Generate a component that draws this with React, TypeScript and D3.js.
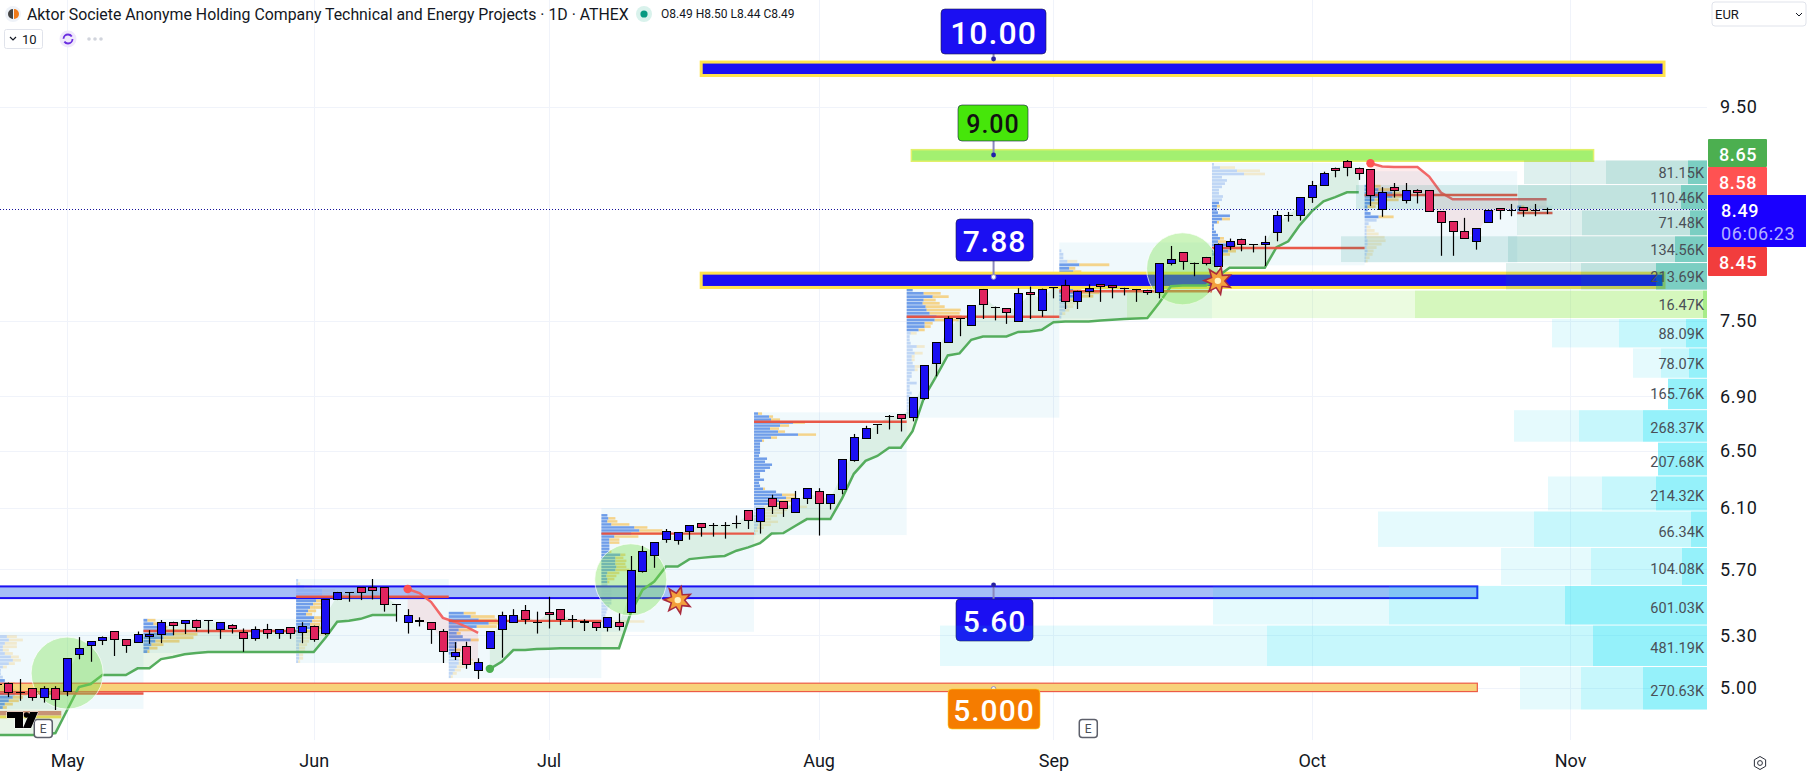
import { useEffect, useRef } from "react";
import * as d3 from "d3";

// daily candles, [open, high, low, close], one row per trading day
const candles: number[][] = [
  [5.02, 5.06, 4.98, 5.02], [5.03, 5.03, 4.95, 4.98], [4.98, 5.05, 4.93, 4.98], [5.0, 5.0, 4.93, 4.95],
  [4.95, 5.01, 4.92, 5.0], [5.0, 5.01, 4.88, 4.94], [4.985, 5.167, 4.955, 5.167], [5.19, 5.289, 5.161, 5.224],
  [5.246, 5.265, 5.147, 5.265], [5.275, 5.293, 5.243, 5.289], [5.324, 5.324, 5.18, 5.277], [5.277, 5.277, 5.198, 5.246],
  [5.26, 5.322, 5.26, 5.307], [5.293, 5.33, 5.25, 5.307], [5.307, 5.39, 5.254, 5.377], [5.377, 5.38, 5.3, 5.363],
  [5.375, 5.39, 5.307, 5.389], [5.393, 5.393, 5.322, 5.348], [5.39, 5.39, 5.31, 5.39], [5.334, 5.377, 5.279, 5.377],
  [5.363, 5.365, 5.31, 5.345], [5.32, 5.34, 5.204, 5.286], [5.286, 5.352, 5.268, 5.334], [5.334, 5.367, 5.28, 5.316],
  [5.316, 5.334, 5.279, 5.334], [5.348, 5.348, 5.279, 5.316], [5.322, 5.377, 5.254, 5.357], [5.357, 5.357, 5.262, 5.277],
  [5.316, 5.516, 5.302, 5.516], [5.514, 5.56, 5.51, 5.56], [5.558, 5.558, 5.5, 5.558], [5.588, 5.588, 5.51, 5.56],
  [5.588, 5.64, 5.514, 5.574], [5.588, 5.588, 5.44, 5.485], [5.485, 5.485, 5.38, 5.485], [5.377, 5.455, 5.31, 5.42],
  [5.39, 5.406, 5.352, 5.385], [5.377, 5.377, 5.25, 5.334], [5.324, 5.336, 5.14, 5.207], [5.18, 5.26, 5.157, 5.2],
  [5.237, 5.262, 5.107, 5.136], [5.1, 5.167, 5.05, 5.144], [5.224, 5.324, 5.224, 5.324], [5.334, 5.44, 5.17, 5.42],
  [5.377, 5.455, 5.377, 5.42], [5.45, 5.48, 5.365, 5.395], [5.377, 5.44, 5.31, 5.377], [5.44, 5.53, 5.34, 5.428],
  [5.455, 5.455, 5.36, 5.395], [5.395, 5.42, 5.342, 5.395], [5.386, 5.395, 5.325, 5.377], [5.377, 5.377, 5.325, 5.348],
  [5.348, 5.406, 5.322, 5.406], [5.377, 5.43, 5.328, 5.357], [5.436, 5.785, 5.436, 5.696], [5.69, 5.85, 5.68, 5.815],
  [5.793, 5.875, 5.71, 5.875], [5.892, 5.96, 5.87, 5.946], [5.885, 5.94, 5.858, 5.94], [5.944, 5.986, 5.89, 5.986],
  [5.998, 5.998, 5.91, 5.976], [5.988, 6.0, 5.91, 5.988], [5.988, 6.006, 5.897, 5.988], [6.0, 6.05, 5.964, 6.0],
  [6.085, 6.085, 5.96, 6.023], [6.016, 6.1, 5.93, 6.1], [6.17, 6.19, 6.06, 6.115], [6.145, 6.145, 6.04, 6.1],
  [6.076, 6.216, 6.076, 6.17], [6.17, 6.235, 6.127, 6.235], [6.214, 6.235, 5.917, 6.135], [6.135, 6.193, 6.09, 6.193],
  [6.228, 6.438, 6.193, 6.438], [6.435, 6.62, 6.42, 6.597], [6.594, 6.68, 6.594, 6.663], [6.69, 6.69, 6.62, 6.69],
  [6.75, 6.76, 6.653, 6.75], [6.767, 6.767, 6.638, 6.74], [6.745, 6.893, 6.713, 6.893], [6.89, 7.143, 6.875, 7.143],
  [7.158, 7.327, 7.055, 7.327], [7.327, 7.54, 7.327, 7.525], [7.525, 7.525, 7.375, 7.525], [7.465, 7.63, 7.465, 7.63],
  [7.77, 7.77, 7.517, 7.64], [7.62, 7.62, 7.505, 7.62], [7.605, 7.605, 7.476, 7.573], [7.497, 7.777, 7.497, 7.735],
  [7.745, 7.79, 7.517, 7.725], [7.593, 7.773, 7.535, 7.773], [7.787, 7.787, 7.69, 7.787], [7.8, 7.85, 7.6, 7.665],
  [7.665, 7.755, 7.6, 7.755], [7.75, 7.81, 7.7, 7.78], [7.81, 7.81, 7.66, 7.795], [7.8, 7.8, 7.69, 7.785],
  [7.78, 7.78, 7.715, 7.78], [7.77, 7.77, 7.66, 7.77], [7.763, 7.763, 7.72, 7.745], [7.74, 7.995, 7.69, 7.995],
  [7.995, 8.148, 7.975, 8.03], [8.09, 8.09, 7.937, 8.01], [8.0, 8.0, 7.88, 8.0], [8.05, 8.05, 7.975, 8.0],
  [7.97, 8.17, 7.97, 8.17], [8.15, 8.215, 8.11, 8.19], [8.215, 8.215, 8.1, 8.163], [8.163, 8.163, 8.09, 8.163],
  [8.163, 8.24, 7.97, 8.18], [8.275, 8.47, 8.19, 8.43], [8.43, 8.46, 8.37, 8.43], [8.43, 8.6, 8.38, 8.6],
  [8.6, 8.755, 8.545, 8.715], [8.715, 8.845, 8.715, 8.83], [8.885, 8.885, 8.79, 8.865], [8.945, 8.96, 8.8, 8.89],
  [8.885, 8.885, 8.765, 8.83], [8.87, 8.87, 8.515, 8.62], [8.485, 8.695, 8.415, 8.645], [8.695, 8.735, 8.595, 8.672],
  [8.57, 8.735, 8.54, 8.665], [8.665, 8.675, 8.54, 8.645], [8.665, 8.665, 8.465, 8.465], [8.465, 8.465, 8.06, 8.37],
  [8.375, 8.375, 8.06, 8.285], [8.285, 8.405, 8.22, 8.22], [8.19, 8.31, 8.115, 8.31], [8.37, 8.48, 8.36, 8.48],
  [8.495, 8.495, 8.39, 8.48], [8.48, 8.535, 8.42, 8.48], [8.505, 8.505, 8.415, 8.475], [8.48, 8.535, 8.42, 8.48],
  [8.49, 8.5, 8.44, 8.49],
];

// stop line legs of the trend indicator, each with its first bar
const greenLegA = [4.747, 4.747, 4.747, 4.747, 4.747, 4.757, 4.88, 5.005, 5.022, 5.072, 5.072, 5.072, 5.11, 5.11, 5.162, 5.174, 5.19, 5.197, 5.203, 5.203, 5.203, 5.203, 5.203, 5.203, 5.203, 5.203, 5.203, 5.203, 5.285, 5.38, 5.385, 5.397, 5.42, 5.42, 5.42];
const redLegA = [5.578, 5.553, 5.498, 5.403, 5.38, 5.35, 5.314];
const greenLegB = [5.107, 5.147, 5.214, 5.214, 5.22, 5.222, 5.225, 5.225, 5.225, 5.225, 5.225, 5.225, 5.433, 5.572, 5.624, 5.718, 5.718, 5.765, 5.773, 5.78, 5.785, 5.819, 5.84, 5.867, 5.93, 5.933, 5.98, 6.026, 6.026, 6.026, 6.165, 6.335, 6.426, 6.461, 6.52, 6.52, 6.64, 6.897, 7.053, 7.22, 7.236, 7.346, 7.373, 7.373, 7.373, 7.41, 7.413, 7.428, 7.49, 7.495, 7.495, 7.495, 7.503, 7.511, 7.517, 7.52, 7.525, 7.65, 7.793, 7.8, 7.8, 7.8, 7.88, 7.955, 7.955, 7.955, 7.955, 8.137, 8.19, 8.34, 8.465, 8.56, 8.6, 8.645, 8.645];
const redLegB = [8.927, 8.895, 8.89, 8.89, 8.89, 8.797, 8.643, 8.579, 8.579, 8.579, 8.579, 8.579, 8.579, 8.579, 8.579, 8.579];
const legStarts = [0, 35, 42, 117];

// session volume profiles
const sessionEdges = [-0.5, 12.5, 25.5, 38.5, 51.5, 64.5, 77.5, 90.5, 103.5, 116.5, 129.5, 132.5];
const sessionHighs = [5.32, 5.397, 5.64, 5.52, 6.1, 6.78, 7.83, 8.18, 8.93, 8.85, 8.52];
const sessionLows = [4.886, 5.197, 5.14, 5.055, 5.32, 5.92, 6.74, 7.52, 7.975, 8.0, 8.44];
const sessionPocs = [4.97, 5.325, 5.53, 5.385, 5.93, 6.71, 7.535, 7.75, 8.13, 8.62, 8.45];
const sessionValueAreas = [[14, 22], [0, 9], [2, 15], [4, 16], [2, 24], [0, 30], [2, 14], [6, 16], [12, 28], [4, 13], [0, 2]];
const sessionRows: number[][][] = [
  [[0, 0], [16, 10], [18, 14], [14, 12], [12, 14], [12, 6], [14, 8], [20, 8], [22, 8], [18, 6], [12, 4], [10, 0], [10, 0], [12, 0], [14, 0], [18, 6], [20, 8], [22, 10], [24, 12], [22, 10], [18, 10], [14, 8], [12, 4]],
  [[4, 8], [10, 8], [18, 6], [22, 20], [30, 24], [20, 30], [12, 24], [8, 12], [6, 8], [4, 2]],
  [[2, 0], [2, 2], [8, 8], [26, 13], [26, 8], [26, 16], [20, 8], [17, 8], [14, 12], [12, 8], [10, 6], [18, 8], [16, 12], [14, 10], [20, 8], [10, 14], [6, 26], [5, 14], [5, 8], [3, 8], [3, 6], [3, 6], [3, 4], [3, 4], [2, 2]],
  [[0, 0], [0, 0], [0, 0], [0, 0], [15, 12], [22, 24], [30, 18], [40, 16], [28, 20], [10, 14], [8, 4], [14, 0], [22, 8], [8, 0], [8, 0], [6, 6], [6, 4], [8, 10], [10, 14], [10, 16], [8, 8], [6, 6], [4, 4], [2, 2]],
  [[0, 0], [0, 0], [6, 0], [7, 7], [6, 10], [10, 18], [33, 13], [38, 23], [30, 37], [13, 24], [8, 10], [8, 10], [8, 0], [8, 0], [8, 2], [19, 5], [14, 8], [14, 11], [14, 10], [15, 10], [14, 14], [6, 12], [5, 10], [6, 7], [6, 2], [6, 0], [10, 0], [10, 0], [10, 0], [10, 0], [10, 0], [10, 0], [8, 0], [6, 0], [5, 0], [4, 0], [3, 0], [3, 40], [0, 0], [0, 0], [0, 0]],
  [[4, 4], [15, 4], [17, 9], [39, 12], [26, 9], [16, 9], [24, 7], [44, 18], [17, 6], [8, 2], [6, 0], [6, 0], [6, 0], [6, 0], [5, 0], [13, 0], [11, 0], [18, 0], [16, 0], [11, 0], [6, 0], [6, 0], [10, 0], [5, 0], [6, 0], [9, 2], [22, 0], [28, 13], [32, 10], [25, 15], [20, 10], [10, 43], [6, 27], [10, 20], [10, 13], [7, 10], [7, 17], [4, 13], [3, 7], [1, 3], [1, 1]],
  [[0, 0], [0, 0], [6, 0], [17, 17], [26, 16], [17, 12], [16, 17], [19, 19], [20, 34], [23, 30], [30, 25], [28, 24], [18, 8], [18, 6], [12, 6], [4, 6], [3, 0], [3, 0], [4, 0], [10, 8], [6, 0], [8, 8], [5, 3], [5, 3], [6, 0], [8, 8], [8, 3], [5, 0], [5, 0], [3, 0], [10, 0], [3, 0], [3, 0], [5, 0], [3, 0], [2, 0], [4, 0], [2, 0], [2, 0], [2, 0], [1, 0]],
  [[0, 0], [0, 0], [2, 0], [4, 0], [4, 0], [8, 10], [20, 30], [10, 6], [14, 8], [8, 18], [8, 4], [8, 4], [10, 6], [14, 8], [20, 20], [14, 20], [10, 10], [6, 10], [8, 6], [6, 4], [3, 3], [2, 0]],
  [[2, 0], [8, 15], [25, 23], [32, 21], [10, 0], [15, 0], [13, 0], [10, 0], [7, 0], [7, 0], [11, 0], [10, 0], [7, 0], [5, 3], [5, 0], [6, 0], [18, 0], [10, 8], [5, 2], [2, 0], [2, 0], [4, 0], [6, 0], [8, 4], [6, 8], [14, 10], [20, 12], [16, 8], [8, 10], [6, 4], [4, 8], [2, 0]],
  [[0, 0], [0, 0], [0, 0], [0, 0], [8, 8], [14, 16], [28, 8], [28, 16], [10, 24], [6, 14], [3, 8], [3, 0], [6, 0], [14, 15], [12, 0], [4, 0], [2, 4], [2, 8], [2, 12], [2, 18], [3, 18], [3, 14], [2, 10], [3, 6], [2, 6], [1, 4], [1, 2]],
  [[4, 3], [6, 8], [3, 14]],
];

// visible range profile on the right
const vpEdges = [8.96, 8.72, 8.48, 8.24, 8.0, 7.76, 7.52, 7.28, 7.04, 6.8, 6.56, 6.32, 6.08, 5.84, 5.6, 5.36, 5.12, 4.88];
const vpLabels = ["81.15K", "110.46K", "71.48K", "134.56K", "213.69K", "16.47K", "88.09K", "78.07K", "165.76K", "268.37K", "207.68K", "214.32K", "66.34K", "104.08K", "601.03K", "481.19K", "270.63K"];
const vpTotal = [183, 351, 190, 366, 201, 580, 155, 74, 39, 193, 49, 159, 329, 206, 494, 767, 187];
const vpMiddle = [101, 189, 125, 199, 126, 292, 88, 46, 39, 128, 49, 105, 173, 116, 318, 440, 126];
const vpDelta = [19, 26, 17, 32, 51, 4, 21, 18, 39, 64, 49, 51, 16, 25, 142, 114, 64];
const vpTones = ["teal", "teal", "teal", "teal", "teal", "green", "cyan", "cyan", "cyan", "cyan", "cyan", "cyan", "cyan", "cyan", "cyan", "cyan", "cyan"];

const priceTicks = [9.5, 7.5, 6.9, 6.5, 6.1, 5.7, 5.3, 5.0];
const months = ["May", "Jun", "Jul", "Aug", "Sep", "Oct", "Nov"];
const monthBars = [6, 27, 47, 70, 90, 112, 134];
const circleBars = [6, 54, 101];
const circlePrices = [5.083, 5.635, 7.945];
const starBars = [58, 104];
const starPrices = [5.51, 7.84];
const earningsBars = [3.2, 92.2];

const FONT = "Roboto, sans-serif";
const BLUE = "#1b0ff2";
const RED = "#e0245e";

export default function App() {
  const ref = useRef<SVGSVGElement>(null);

  useEffect(() => {
    const svg = d3.select(ref.current);
    svg.selectAll("*").remove();

    const x = d3.scaleLinear().domain([0, 132]).range([-3.3, 1546.6]);
    const y = d3.scaleLog().domain([5, 9.5]).range([688, 107]);
    const plotRight = 1707;
    const plotBottom = 740;

    const chart = svg.append("g");

    // grid
    chart.append("g").selectAll("line").data(priceTicks).join("line")
      .attr("x1", 0).attr("x2", plotRight)
      .attr("y1", d => Math.round(y(d)) + 0.5).attr("y2", d => Math.round(y(d)) + 0.5)
      .attr("stroke", "#f0f3fa");
    chart.append("g").selectAll("line").data(monthBars).join("line")
      .attr("x1", d => Math.round(x(d)) + 0.5).attr("x2", d => Math.round(x(d)) + 0.5)
      .attr("y1", 0).attr("y2", plotBottom)
      .attr("stroke", "#f0f3fa");

    // session blocks
    sessionHighs.forEach((hi, s) => {
      chart.append("rect")
        .attr("x", x(sessionEdges[s])).attr("width", x(sessionEdges[s + 1]) - x(sessionEdges[s]))
        .attr("y", y(hi)).attr("height", y(sessionLows[s]) - y(hi))
        .attr("fill", "rgba(0,150,200,0.06)");
    });

    // session profile bars
    sessionRows.forEach((rows, s) => {
      const band = d3.scaleBand<number>()
        .domain(d3.range(rows.length))
        .range([y(sessionHighs[s]), y(sessionLows[s])])
        .paddingInner(0.18);
      const x0 = x(sessionEdges[s]);
      const g = chart.append("g");
      rows.forEach((r, i) => {
        const inside = i >= sessionValueAreas[s][0] && i <= sessionValueAreas[s][1];
        g.append("rect").attr("x", x0).attr("y", band(i)!).attr("width", r[0]).attr("height", band.bandwidth())
          .attr("fill", "#4f86e3").attr("opacity", inside ? 0.8 : 0.3);
        g.append("rect").attr("x", x0 + r[0]).attr("y", band(i)!).attr("width", r[1]).attr("height", band.bandwidth())
          .attr("fill", "#f5c766").attr("opacity", inside ? 0.75 : 0.3);
      });
    });

    // old level behind the logo
    chart.append("rect").attr("x", 0).attr("width", x(5.5)).attr("y", y(4.875)).attr("height", y(4.85) - y(4.875)).attr("fill", "#d98f7c");
    chart.append("rect").attr("x", 0).attr("width", x(5.5)).attr("y", y(4.85)).attr("height", y(4.835) - y(4.85)).attr("fill", "#f6e15a");

    // horizontal zones
    const zone = (bar0: number, bar1: number, top: number, bottom: number, fill: string, stroke: string, sw: number) => {
      chart.append("rect")
        .attr("x", x(bar0)).attr("width", x(bar1) - x(bar0))
        .attr("y", y(top) + sw / 2).attr("height", y(bottom) - y(top) - sw)
        .attr("fill", fill).attr("stroke", stroke).attr("stroke-width", sw);
    };
    zone(60, 142, 10.0, 9.82, BLUE, "#ffe34d", 3);
    zone(77.9, 136, 9.07, 8.94, "#a3f070", "#e2f06a", 1.5);
    zone(60, 142, 7.92, 7.77, BLUE, "#ffe34d", 3);
    zone(-1, 126.1, 5.6, 5.516, "rgba(150,180,246,0.85)", BLUE, 2);
    zone(-1, 126.1, 5.03, 4.977, "#f8d27a", "#ec5b45", 1.2);

    // price labels with their connector
    const anchorX = x(84.9);
    const priceLabel = (text: string, x0: number, x1: number, y0: number, y1: number, dotY: number, fill: string, color: string, size: number, dotFill: string, border = "#1a1a4a") => {
      chart.append("line")
        .attr("x1", anchorX).attr("x2", anchorX)
        .attr("y1", dotY).attr("y2", dotY < y0 ? y0 : y1)
        .attr("stroke", "#8a87bd").attr("stroke-width", 2);
      chart.append("circle").attr("cx", anchorX).attr("cy", dotY).attr("r", 2.4)
        .attr("fill", dotFill).attr("stroke", dotFill === "#fff" ? "#8a87bd" : "none");
      chart.append("rect")
        .attr("x", x0).attr("y", y0).attr("width", x1 - x0).attr("height", y1 - y0).attr("rx", 4)
        .attr("fill", fill).attr("stroke", border).attr("stroke-opacity", 0.6);
      chart.append("text")
        .attr("x", (x0 + x1) / 2).attr("y", (y0 + y1) / 2 + 1)
        .attr("text-anchor", "middle").attr("dominant-baseline", "central")
        .attr("font-family", FONT).attr("font-weight", 500).attr("font-size", size)
        .attr("letter-spacing", 1).attr("fill", color)
        .text(text);
    };
    priceLabel("10.00", 941, 1046, 9, 54, 59, BLUE, "#fff", 32, "#2a24a0");
    priceLabel("9.00", 958, 1028, 105, 141, 155, "#46e60a", "#111", 25, "#1f1fa8");
    priceLabel("7.88", 956, 1033, 219, 261, 277, BLUE, "#fff", 30, "#fff");
    priceLabel("5.60", 956, 1033, 599, 641, 585, BLUE, "#fff", 30, "#2a24a0");
    priceLabel("5.000", 948, 1040, 689, 729, 689, "#f57c00", "#fff", 30, "#fff", "#ffd21e");

    // trend fills and lines
    const legs = [greenLegA, redLegA, greenLegB, redLegB];
    legs.forEach((leg, k) => {
      const start = legStarts[k];
      const isUp = k % 2 === 0;
      const color = isUp ? "#55ad5d" : "#f26767";
      const rows = leg.map((stop, i) => ({ bar: start + i, stop, mid: (candles[start + i][0] + candles[start + i][3]) / 2 }));
      const area = d3.area<typeof rows[number]>().x(d => x(d.bar)).y0(d => y(d.stop)).y1(d => y(d.mid));
      chart.append("path").attr("d", area(rows)).attr("fill", isUp ? "rgba(76,175,80,0.13)" : "rgba(242,54,69,0.1)");
      const line = d3.line<typeof rows[number]>().x(d => x(d.bar)).y(d => y(d.stop));
      chart.append("path").attr("d", line(rows)).attr("fill", "none").attr("stroke", color).attr("stroke-width", 2.5);
      if (start > 0) {
        chart.append("circle").attr("cx", x(start)).attr("cy", y(leg[0])).attr("r", 4.2)
          .attr("fill", isUp ? "#4caf50" : "#ff5252");
      }
    });

    // POC lines
    sessionPocs.forEach((poc, s) => {
      chart.append("line")
        .attr("x1", x(sessionEdges[s])).attr("x2", x(sessionEdges[s + 1]))
        .attr("y1", y(poc)).attr("y2", y(poc))
        .attr("stroke", "#e8503f").attr("stroke-width", 2.4).attr("stroke-opacity", 0.95);
    });

    // green circles
    chart.append("g").selectAll("circle").data(circleBars).join("circle")
      .attr("cx", d => x(d)).attr("cy", (_, i) => y(circlePrices[i])).attr("r", 36)
      .attr("fill", "rgba(120,225,80,0.38)").attr("stroke", "#fff").attr("stroke-opacity", 0.7);

    // visible range profile
    const vpX = d3.scaleLinear().domain([0, 800]).range([plotRight, plotRight - 800]);
    const tones: Record<string, string[]> = {
      teal: ["rgba(0,137,123,0.13)", "rgba(0,137,123,0.13)", "rgba(0,170,145,0.36)"],
      green: ["rgba(130,230,60,0.16)", "rgba(130,230,60,0.21)", "rgba(100,220,60,0.4)"],
      cyan: ["rgba(0,205,235,0.1)", "rgba(0,230,245,0.13)", "rgba(0,224,245,0.25)"],
    };
    vpLabels.forEach((label, r) => {
      const top = y(vpEdges[r]) + 0.5;
      const bottom = y(vpEdges[r + 1]) - 0.5;
      [vpTotal[r], vpMiddle[r], vpDelta[r]].forEach((v, l) => {
        chart.append("rect")
          .attr("x", vpX(v)).attr("width", plotRight - vpX(v))
          .attr("y", top).attr("height", bottom - top)
          .attr("fill", tones[vpTones[r]][l]);
      });
      chart.append("text")
        .attr("x", plotRight - 3).attr("y", (top + bottom) / 2 + (r > 8 ? 3 : 1))
        .attr("text-anchor", "end").attr("dominant-baseline", "central")
        .attr("font-family", FONT).attr("font-size", 14.5).attr("fill", "#4a4f57")
        .text(label);
    });

    // last price line
    chart.append("line")
      .attr("x1", 0).attr("x2", plotRight)
      .attr("y1", Math.round(y(8.49)) + 0.5).attr("y2", Math.round(y(8.49)) + 0.5)
      .attr("stroke", "#15109a").attr("stroke-dasharray", "1 2");

    // candles
    const bars = chart.append("g");
    candles.forEach((c, i) => {
      const cx = Math.round(x(i));
      const up = c[3] >= c[0];
      const top = Math.round(y(Math.max(c[0], c[3])));
      const bottom = Math.round(y(Math.min(c[0], c[3])));
      bars.append("line")
        .attr("x1", cx + 0.5).attr("x2", cx + 0.5)
        .attr("y1", y(c[1])).attr("y2", y(c[2]))
        .attr("stroke", "#000").attr("stroke-width", 1.2);
      if (bottom - top < 1) {
        bars.append("line")
          .attr("x1", cx - 4).attr("x2", cx + 5)
          .attr("y1", top + 0.5).attr("y2", top + 0.5)
          .attr("stroke", "#000");
      } else {
        bars.append("rect")
          .attr("x", cx - 3.5).attr("width", 8)
          .attr("y", top + 0.5).attr("height", bottom - top)
          .attr("fill", up ? BLUE : RED).attr("stroke", "#000");
      }
    });

    // explosion marks
    const starPath = d3.lineRadial<number>()
      .angle((_, i) => (i * Math.PI) / 7 + 0.25)
      .radius(d => d)
      .curve(d3.curveLinearClosed);
    starBars.forEach((b, i) => {
      const g = chart.append("g").attr("transform", `translate(${x(b)},${y(starPrices[i])})`);
      const spikes = (a: number, c: number) => d3.range(14).map(k => (k % 2 === 0 ? a : c));
      g.append("path").attr("d", starPath(spikes(16, 8))).attr("fill", "#a82a3e");
      g.append("path").attr("d", starPath(spikes(11.5, 6))).attr("fill", "#f3a03c");
      g.append("circle").attr("r", 3.2).attr("fill", "#fff3c4");
    });

    // price axis
    const axisY = d3.axisRight(y).tickValues(priceTicks).tickFormat(d => d3.format(".2f")(d as number)).tickSize(0).tickPadding(0);
    const yAxis = chart.append("g").attr("transform", "translate(1720,0)").call(axisY);
    yAxis.select(".domain").remove();
    yAxis.selectAll("text").attr("font-family", FONT).attr("font-size", 18).attr("letter-spacing", 0.6).attr("fill", "#131722");

    // time axis
    const axisX = d3.axisBottom(x).tickValues(monthBars).tickFormat((_, i) => months[i]).tickSize(0).tickPadding(0);
    const xAxis = chart.append("g").attr("transform", "translate(0,754)").call(axisX);
    xAxis.select(".domain").remove();
    xAxis.selectAll("text").attr("font-family", FONT).attr("font-size", 18).attr("fill", "#131722");

    // price tags on the axis
    const tag = (text: string, y0: number, y1: number, fill: string, width = 59) => {
      chart.append("rect").attr("x", 1708).attr("y", y0).attr("width", width).attr("height", y1 - y0).attr("rx", 1).attr("fill", fill);
      chart.append("text").attr("x", 1708 + 30).attr("y", (y0 + y1) / 2 + 1)
        .attr("text-anchor", "middle").attr("dominant-baseline", "central")
        .attr("font-family", FONT).attr("font-weight", 500).attr("font-size", 18).attr("letter-spacing", 0.6).attr("fill", "#fff")
        .text(text);
    };
    tag("8.65", 139, 167, "#4caf50");
    tag("8.58", 167, 196, "#ff5252");
    tag("8.45", 247, 276, "#f23d3d");
    chart.append("rect").attr("x", 1708).attr("y", 195).attr("width", 98).attr("height", 52).attr("fill", "#1a00ff");
    chart.append("text").attr("x", 1721).attr("y", 210).attr("dominant-baseline", "central")
      .attr("font-family", FONT).attr("font-weight", 500).attr("font-size", 18).attr("letter-spacing", 0.6).attr("fill", "#fff").text("8.49");
    chart.append("text").attr("x", 1721).attr("y", 233).attr("dominant-baseline", "central")
      .attr("font-family", FONT).attr("font-size", 18).attr("letter-spacing", 0.6).attr("fill", "#b3b0ff").text("06:06:23");

    // earnings badges
    earningsBars.forEach(b => {
      const bx = x(b);
      chart.append("rect").attr("x", bx).attr("y", 719.5).attr("width", 18).attr("height", 18).attr("rx", 3)
        .attr("fill", "#fff").attr("stroke", "#5d606b").attr("stroke-width", 1.5);
      chart.append("text").attr("x", bx + 9).attr("y", 729).attr("text-anchor", "middle").attr("dominant-baseline", "central")
        .attr("font-family", FONT).attr("font-size", 12).attr("fill", "#4a4f57").text("E");
    });

    // logo
    const logo = chart.append("g");
    logo.append("path").attr("d", "M7 712H23V728H15V718H7Z M38 712L31 728H23L30 712Z").attr("fill", "#000").attr("stroke", "#fff").attr("stroke-width", 1).attr("paint-order", "stroke");
    logo.append("circle").attr("cx", 26.5).attr("cy", 715).attr("r", 2.7).attr("fill", "#000");

    // header
    const head = chart.append("g").attr("font-family", FONT);
    head.append("circle").attr("cx", 13).attr("cy", 14).attr("r", 8).attr("fill", "#eef2f8");
    head.append("path").attr("d", "M13 9A5 5 0 0 0 13 19Z").attr("fill", "#444");
    head.append("path").attr("d", "M14 9A5 5 0 0 1 14 19Z").attr("fill", "#f07a1a");
    head.append("text").attr("x", 27).attr("y", 14).attr("dominant-baseline", "central")
      .attr("font-size", 15.85).attr("fill", "#131722")
      .text("Aktor Societe Anonyme Holding Company Technical and Energy Projects · 1D · ATHEX");
    head.append("circle").attr("cx", 644).attr("cy", 14).attr("r", 8).attr("fill", "#d9f2ec");
    head.append("circle").attr("cx", 644).attr("cy", 14).attr("r", 3.6).attr("fill", "#089981");
    head.append("text").attr("x", 661).attr("y", 14).attr("dominant-baseline", "central")
      .attr("font-size", 12).attr("fill", "#131722")
      .text("O8.49 H8.50 L8.44 C8.49");
    head.append("rect").attr("x", 4.5).attr("y", 29.5).attr("width", 38).attr("height", 19).attr("rx", 2)
      .attr("fill", "#fff").attr("stroke", "#e0e3eb");
    head.append("path").attr("d", "M10 37L13 40L16 37").attr("fill", "none").attr("stroke", "#131722").attr("stroke-width", 1.2);
    head.append("text").attr("x", 22).attr("y", 39).attr("dominant-baseline", "central")
      .attr("font-size", 13).attr("fill", "#131722").text("10");
    head.append("circle").attr("cx", 68).attr("cy", 39).attr("r", 8.5).attr("fill", "#efe8fb");
    head.append("circle").attr("cx", 68).attr("cy", 39).attr("r", 4.5).attr("fill", "none")
      .attr("stroke", "#6a2ee0").attr("stroke-width", 1.8).attr("stroke-dasharray", "11 3");
    [89, 95, 101].forEach(cx => head.append("circle").attr("cx", cx).attr("cy", 39).attr("r", 1.8).attr("fill", "#d1d4dc"));

    // currency box and settings icon
    head.append("rect").attr("x", 1712).attr("y", 2).attr("width", 94).attr("height", 24).attr("rx", 3)
      .attr("fill", "#fff").attr("stroke", "#e0e3eb");
    head.append("text").attr("x", 1715).attr("y", 14).attr("dominant-baseline", "central")
      .attr("font-size", 13).attr("fill", "#131722").text("EUR");
    head.append("path").attr("d", "M1796 13L1799 16L1802 13").attr("fill", "none").attr("stroke", "#131722");
    const hex = d3.range(6).map(k => {
      const a = (k * Math.PI) / 3 + Math.PI / 6;
      return [1760 + 6.5 * Math.cos(a), 763 + 6.5 * Math.sin(a)] as [number, number];
    });
    head.append("path").attr("d", d3.line().curve(d3.curveLinearClosed)(hex)).attr("fill", "none").attr("stroke", "#2a2e39");
    head.append("circle").attr("cx", 1760).attr("cy", 763).attr("r", 2.4).attr("fill", "none").attr("stroke", "#2a2e39");
  }, []);

  return (
    <svg
      ref={ref}
      width={1807}
      height={778}
      style={{ position: "absolute", left: 0, top: 0, background: "#fff" }}
    />
  );
}
